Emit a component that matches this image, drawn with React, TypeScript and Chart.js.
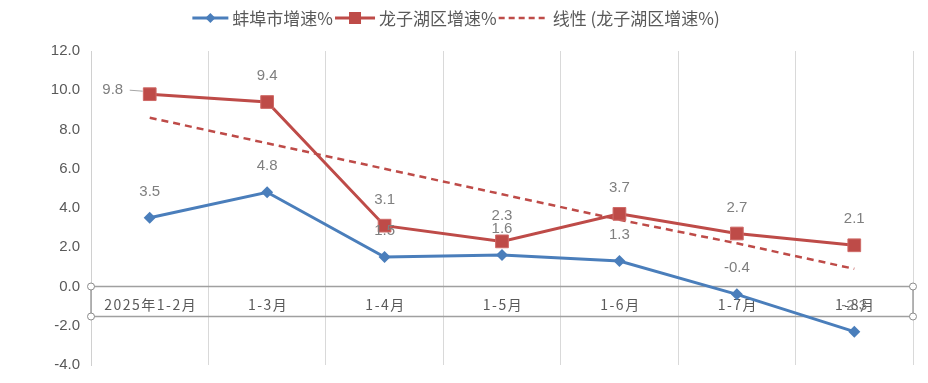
import { useEffect, useRef } from "react";
import { Chart, registerables } from "chart.js";

Chart.register(...registerables);

const categories = ["2025年1-2月", "1-3月", "1-4月", "1-5月", "1-6月", "1-7月", "1-8月"];
const bengbuGrowth = [3.5, 4.8, 1.5, 1.6, 1.3, -0.4, -2.3];
const longzihuGrowth = [9.8, 9.4, 3.1, 2.3, 3.7, 2.7, 2.1];
const longzihuTrend = [8.6, 7.3, 6.0, 4.7, 3.4, 2.2, 0.9];
const yTicks = [-4, -2, 0, 2, 4, 6, 8, 10, 12];
const seriesNames = ["蚌埠市增速%", "龙子湖区增速%", "线性 (龙子湖区增速%)"];

const BLUE = "#4A7EBB";
const RED = "#BE4B48";
const NUM_FONT = "'Liberation Sans', 'Noto Sans CJK SC', sans-serif";
const CJK_FONT = "'Noto Sans CJK SC', 'Liberation Sans', sans-serif";

const overlayPlugin = {
  id: "overlay",
  beforeDatasetsDraw(chart: any) {
    const { ctx, chartArea } = chart;
    const x = chart.scales.x;
    const y = chart.scales.y;
    const y0 = y.getPixelForValue(0);
    const yb = y0 + 30;
    const L = chartArea.left;
    const R = chartArea.right;
    ctx.save();
    ctx.strokeStyle = "#a0a0a0";
    ctx.lineWidth = 1.5;
    ctx.beginPath();
    ctx.moveTo(L, y0);
    ctx.lineTo(R, y0);
    ctx.moveTo(L, yb);
    ctx.lineTo(R, yb);
    ctx.moveTo(L, y0);
    ctx.lineTo(L, yb);
    ctx.moveTo(R, y0);
    ctx.lineTo(R, yb);
    ctx.stroke();
    ctx.fillStyle = "#595959";
    ctx.font = `14px ${CJK_FONT}`;
    (ctx as any).letterSpacing = "1.5px";
    ctx.textAlign = "center";
    ctx.textBaseline = "middle";
    categories.forEach((c, i) => {
      ctx.fillText(c, x.getPixelForValue(i) + 1, y0 + 18);
    });
    (ctx as any).letterSpacing = "0px";
    ctx.lineWidth = 1;
    ctx.strokeStyle = "#8c8c8c";
    ctx.fillStyle = "#ffffff";
    [[L, y0], [L, yb], [R, y0], [R, yb]].forEach(([hx, hy]) => {
      ctx.beginPath();
      ctx.arc(hx, hy, 3.5, 0, Math.PI * 2);
      ctx.fill();
      ctx.stroke();
    });
    ctx.restore();
  },
  afterDatasetsDraw(chart: any) {
    const { ctx } = chart;
    ctx.save();
    ctx.font = `15px ${NUM_FONT}`;
    ctx.fillStyle = "#7f7f7f";
    ctx.textAlign = "center";
    ctx.textBaseline = "middle";
    [0, 1].forEach((di) => {
      const meta = chart.getDatasetMeta(di);
      const vals = chart.data.datasets[di].data as number[];
      meta.data.forEach((pt: any, i: number) => {
        const txt = vals[i].toFixed(1);
        if (di === 1 && i === 0) {
          ctx.fillText(txt, pt.x - 37, pt.y - 4);
          ctx.strokeStyle = "#a6a6a6";
          ctx.lineWidth = 1;
          ctx.beginPath();
          ctx.moveTo(pt.x - 20, pt.y - 4);
          ctx.lineTo(pt.x - 7, pt.y - 3);
          ctx.stroke();
        } else {
          ctx.fillText(txt, pt.x, pt.y - 26);
        }
      });
    });
    ctx.restore();
  },
  afterDraw(chart: any) {
    const { ctx } = chart;
    ctx.save();
    ctx.font = `17px ${CJK_FONT}`;
    ctx.textBaseline = "middle";
    ctx.textAlign = "left";
    const symW = [36, 40, 50];
    const gap = 4;
    const spacing = 2;
    const widths = seriesNames.map((n) => ctx.measureText(n).width);
    const total =
      widths.reduce((a, b) => a + b, 0) +
      symW.reduce((a, b) => a + b, 0) +
      seriesNames.length * gap +
      (seriesNames.length - 1) * spacing;
    let cx = 456 - total / 2;
    const cy = 18;
    seriesNames.forEach((name, i) => {
      const color = i === 0 ? BLUE : RED;
      const w = symW[i];
      ctx.strokeStyle = color;
      ctx.fillStyle = color;
      ctx.lineWidth = i === 2 ? 2.5 : 3;
      ctx.setLineDash(i === 2 ? [6, 4] : []);
      ctx.beginPath();
      ctx.moveTo(cx, cy);
      ctx.lineTo(cx + w, cy);
      ctx.stroke();
      ctx.setLineDash([]);
      const mx = cx + w / 2;
      if (i === 0) {
        ctx.beginPath();
        ctx.moveTo(mx - 5, cy);
        ctx.lineTo(mx, cy - 5);
        ctx.lineTo(mx + 5, cy);
        ctx.lineTo(mx, cy + 5);
        ctx.closePath();
        ctx.fill();
      } else if (i === 1) {
        ctx.fillRect(mx - 6, cy - 6, 12, 12);
      }
      ctx.fillStyle = "#595959";
      ctx.fillText(name, cx + w + gap, cy + 1);
      cx += w + gap + widths[i] + spacing;
    });
    ctx.restore();
  },
};

export default function App() {
  const ref = useRef<HTMLCanvasElement | null>(null);
  useEffect(() => {
    if (!ref.current) return;
    const chart = new Chart(ref.current, {
      type: "line",
      data: {
        labels: categories,
        datasets: [
          {
            label: seriesNames[0],
            data: bengbuGrowth,
            borderColor: BLUE,
            backgroundColor: BLUE,
            borderWidth: 3,
            pointStyle: "rectRot",
            pointRadius: 6,
            pointBorderWidth: 0,
            tension: 0,
          },
          {
            label: seriesNames[1],
            data: longzihuGrowth,
            borderColor: RED,
            backgroundColor: RED,
            borderWidth: 3,
            pointStyle: "rect",
            pointRadius: 9,
            pointBorderColor: "#cf6a67",
            pointBorderWidth: 1,
            tension: 0,
          },
          {
            label: seriesNames[2],
            data: longzihuTrend,
            borderColor: RED,
            borderWidth: 2.5,
            borderDash: [7, 5],
            pointRadius: 0,
            tension: 0,
          },
        ],
      },
      options: {
        animation: false,
        responsive: true,
        maintainAspectRatio: false,
        layout: { padding: { top: 51, bottom: 18, left: 0, right: 15 } },
        plugins: { legend: { display: false }, tooltip: { enabled: false } },
        scales: {
          x: {
            type: "category",
            offset: true,
            grid: { display: true, offset: true, color: "#d9d9d9", lineWidth: 1, drawTicks: false },
            border: { display: false },
            ticks: { display: false },
            afterFit: (s: any) => {
              s.height = 0;
              s.paddingLeft = 0;
              s.paddingRight = 0;
            },
          },
          y: {
            min: -4,
            max: 12,
            grid: { display: false, drawTicks: false },
            border: { display: true, color: "#d0d0d0", width: 1 },
            afterBuildTicks: (s: any) => {
              s.ticks = yTicks.map((v) => ({ value: v }));
            },
            ticks: {
              padding: 11,
              color: "#595959",
              font: { family: NUM_FONT, size: 15 },
              callback: (v: any) => Number(v).toFixed(1),
            },
            afterFit: (s: any) => {
              s.width = 91;
              s.paddingTop = 0;
              s.paddingBottom = 0;
            },
          },
        },
      },
      plugins: [overlayPlugin],
    });
    return () => chart.destroy();
  }, []);
  return (
    <div style={{ position: "fixed", left: 0, top: 0, width: 928, height: 383, background: "#fff" }}>
      <canvas ref={ref} />
    </div>
  );
}
